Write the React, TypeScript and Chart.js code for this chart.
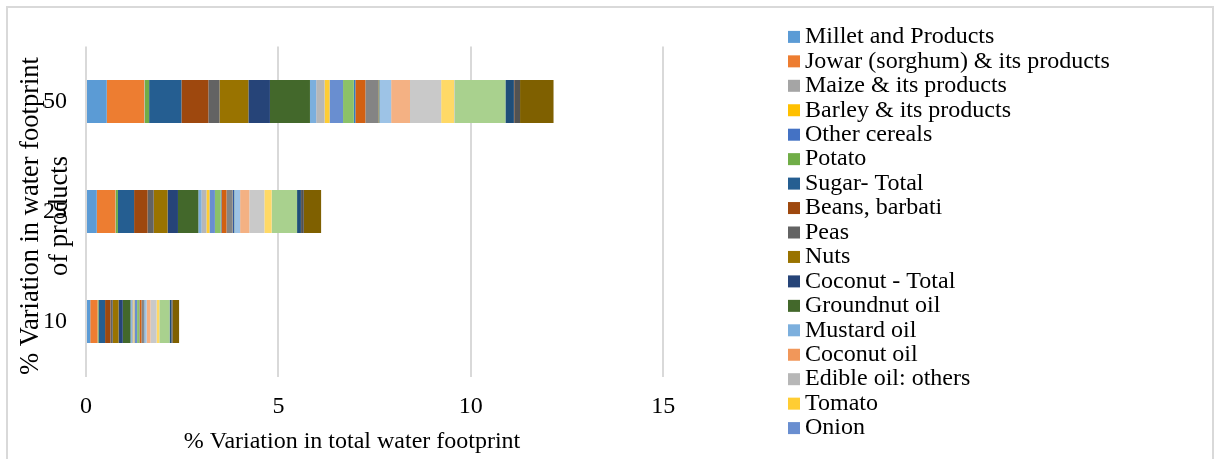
import { useEffect, useRef } from 'react';
import { Chart, registerables } from 'chart.js';

Chart.register(...registerables);

const FONT = '"Liberation Serif", "Times New Roman", serif';

// Categories (top to bottom)
const categories = ['50', '25', '10'];
const xTickValues = [0, 5, 10, 15];
const xAxisTitle = '% Variation in total water footprint';
const yAxisTitle = ['% Variation in water footprint', 'of products'];
const legendVisibleCount = 17;

const seriesNames = [
  'Millet and Products',
  'Jowar (sorghum) & its products',
  'Maize & its products',
  'Barley & its products',
  'Other cereals',
  'Potato',
  'Sugar- Total',
  'Beans, barbati',
  'Peas',
  'Nuts',
  'Coconut - Total',
  'Groundnut oil',
  'Mustard oil',
  'Coconut oil',
  'Edible oil: others',
  'Tomato',
  'Onion',
  'Cabbage',
  'Cauliflower',
  'Brinjal',
  'Other vegetables',
  'Banana',
  'Mango',
  'Citrus',
  'Other fruits',
  'Milk',
  'Ghee',
  'Eggs',
  'Mutton',
  'Chicken',
  'Fish',
  'Tea',
  'Coffee',
  'Spices',
];

const seriesColors = [
  '#5B9BD5', '#ED7D31', '#A5A5A5', '#FFC000', '#4472C4', '#70AD47',
  '#255E91', '#9E480E', '#636363', '#997300', '#264478', '#43682B',
  '#7CAFDD', '#F1975A', '#B7B7B7', '#FFCD33', '#698ED0', '#8CC168',
  '#327DC2', '#D26012', '#848484', '#CC9A00', '#335AA1', '#5A8A39',
  '#9DC3E6', '#F4B183', '#C9C9C9', '#FFD966', '#8FAADC', '#A9D18E',
  '#1F4E79', '#843C0C', '#525252', '#7F6000',
];

// Values per category, one entry per series (same order as seriesNames)
const values50 = [
  0.54, 0.97, 0.01, 0.005, 0.005, 0.11, 0.84, 0.70, 0.29, 0.75, 0.56, 1.04,
  0.17, 0.01, 0.20, 0.13, 0.35, 0.28, 0.04, 0.26, 0.33, 0.01, 0.02, 0.01,
  0.30, 0.49, 0.81, 0.34, 0.01, 1.32, 0.22, 0.01, 0.15, 0.87,
];
const values25 = [
  0.28, 0.48, 0.005, 0.005, 0.005, 0.055, 0.42, 0.35, 0.16, 0.36, 0.27, 0.53,
  0.085, 0.005, 0.12, 0.08, 0.14, 0.15, 0.02, 0.13, 0.155, 0.005, 0.04, 0.005,
  0.15, 0.24, 0.39, 0.19, 0.005, 0.655, 0.10, 0.005, 0.07, 0.45,
];
const values10 = [
  0.11, 0.19, 0.002, 0.002, 0.002, 0.02, 0.17, 0.14, 0.06, 0.15, 0.11, 0.20,
  0.035, 0.002, 0.04, 0.025, 0.07, 0.055, 0.008, 0.05, 0.065, 0.002, 0.005, 0.002,
  0.06, 0.10, 0.16, 0.07, 0.002, 0.265, 0.045, 0.002, 0.03, 0.17,
];

const textPlugin = {
  id: 'excelTexts',
  afterDraw(chart: any) {
    const ctx = chart.ctx as CanvasRenderingContext2D;
    ctx.save();
    ctx.fillStyle = '#000';

    // X axis title
    ctx.font = `24px ${FONT}`;
    ctx.textAlign = 'center';
    ctx.textBaseline = 'middle';
    ctx.fillText(xAxisTitle, 344, 434);

    // Y axis title (two rotated lines)
    ctx.font = `26.5px ${FONT}`;
    ctx.textBaseline = 'alphabetic';
    const baselines = [29.5, 58.5];
    yAxisTitle.forEach((t, i) => {
      ctx.save();
      ctx.translate(baselines[i], 208);
      ctx.rotate(-Math.PI / 2);
      ctx.fillText(t, 0, 0);
      ctx.restore();
    });

    // Legend (clipped to the first entries, like the reference)
    ctx.font = `24px ${FONT}`;
    ctx.textAlign = 'left';
    ctx.textBaseline = 'middle';
    const ds = chart.data.datasets;
    for (let i = 0; i < Math.min(legendVisibleCount, ds.length); i++) {
      const cy = 28.9 + i * 24.45;
      ctx.fillStyle = ds[i].backgroundColor;
      ctx.fillRect(780, cy - 6, 12, 12);
      ctx.fillStyle = '#000';
      ctx.fillText(ds[i].label, 797, cy);
    }
    ctx.restore();
  },
};

export default function App() {
  const canvasRef = useRef<HTMLCanvasElement | null>(null);

  useEffect(() => {
    if (!canvasRef.current) return;
    const datasets = seriesNames.map((name, i) => ({
      label: name,
      data: [values50[i], values25[i], values10[i]],
      backgroundColor: seriesColors[i],
      borderWidth: 0,
      barPercentage: 0.39,
      categoryPercentage: 1,
    }));

    const chart = new Chart(canvasRef.current, {
      type: 'bar',
      data: { labels: categories, datasets },
      options: {
        indexAxis: 'y',
        responsive: false,
        maintainAspectRatio: false,
        animation: false,
        layout: { padding: { top: 38.5, right: 448.6, bottom: 0, left: 0 } },
        plugins: {
          legend: { display: false },
          tooltip: { enabled: false },
          title: { display: false },
        },
        scales: {
          x: {
            type: 'linear',
            stacked: true,
            min: 0,
            max: 17.5,
            afterBuildTicks: (s: any) => {
              s.ticks = xTickValues.map((v) => ({ value: v }));
            },
            afterFit: (s: any) => {
              s.height = 82.5;
            },
            grid: { color: '#d9d9d9', lineWidth: 2, drawTicks: false },
            border: { display: false },
            ticks: {
              font: { family: FONT, size: 24 },
              color: '#000',
              padding: 16,
              maxRotation: 0,
            },
          },
          y: {
            type: 'category',
            stacked: true,
            afterFit: (s: any) => {
              s.width = 78;
            },
            grid: { display: false, drawTicks: false },
            border: { display: false },
            ticks: {
              font: { family: FONT, size: 24 },
              color: '#000',
              padding: 19,
            },
          },
        },
      },
      plugins: [textPlugin],
    } as any);

    return () => chart.destroy();
  }, []);

  return (
    <div
      style={{
        position: 'absolute',
        left: 6,
        top: 6,
        width: 1208,
        height: 453,
        boxSizing: 'border-box',
        borderTop: '2px solid #d9d9d9',
        borderLeft: '2px solid #d9d9d9',
        borderRight: '2px solid #d9d9d9',
        background: '#fff',
      }}
    >
      <canvas
        ref={canvasRef}
        width={1200}
        height={451}
        style={{ display: 'block', width: 1200, height: 451 }}
      />
    </div>
  );
}
